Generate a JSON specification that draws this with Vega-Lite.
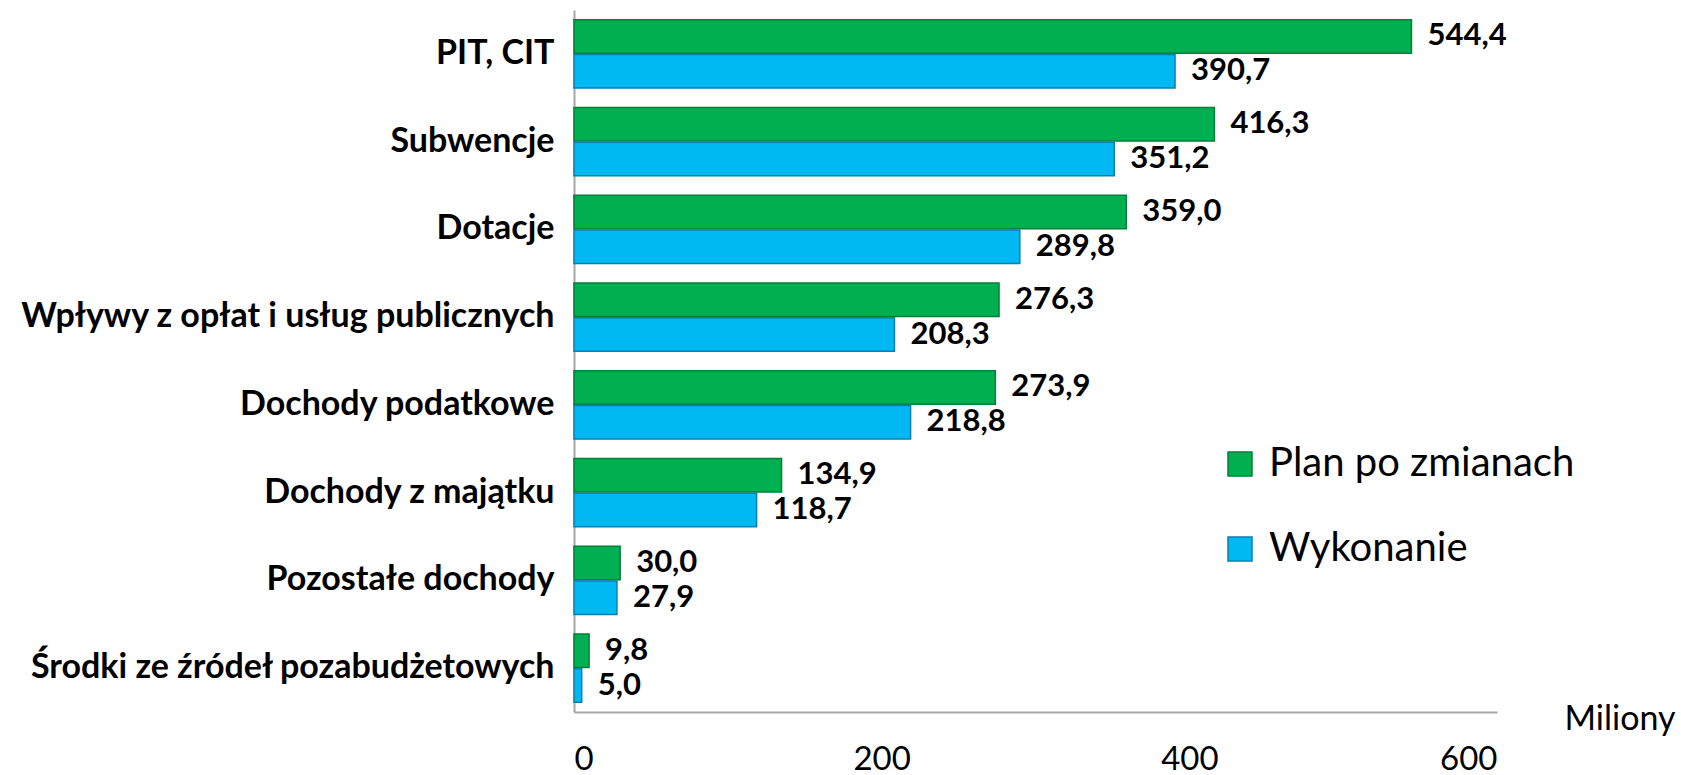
{
  "$schema": "https://vega.github.io/schema/vega-lite/v6.json",
  "width": 923,
  "height": 702,
  "autosize": "none",
  "padding": {"left": 574, "top": 10, "right": 184, "bottom": 63},
  "background": "white",
  "data": {
    "values": [
      {"cat": "PIT, CIT", "series": "Plan po zmianach", "value": 544.4},
      {"cat": "PIT, CIT", "series": "Wykonanie", "value": 390.7},
      {"cat": "Subwencje\u00a0", "series": "Plan po zmianach", "value": 416.3},
      {"cat": "Subwencje\u00a0", "series": "Wykonanie", "value": 351.2},
      {"cat": "Dotacje", "series": "Plan po zmianach", "value": 359.0},
      {"cat": "Dotacje", "series": "Wykonanie", "value": 289.8},
      {"cat": "Wpływy z opłat i usług publicznych", "series": "Plan po zmianach", "value": 276.3},
      {"cat": "Wpływy z opłat i usług publicznych", "series": "Wykonanie", "value": 208.3},
      {"cat": "Dochody podatkowe\u00a0", "series": "Plan po zmianach", "value": 273.9},
      {"cat": "Dochody podatkowe\u00a0", "series": "Wykonanie", "value": 218.8},
      {"cat": "Dochody z majątku", "series": "Plan po zmianach", "value": 134.9},
      {"cat": "Dochody z majątku", "series": "Wykonanie", "value": 118.7},
      {"cat": "Pozostałe dochody", "series": "Plan po zmianach", "value": 30.0},
      {"cat": "Pozostałe dochody", "series": "Wykonanie", "value": 27.9},
      {"cat": "Środki ze źródeł pozabudżetowych", "series": "Plan po zmianach", "value": 9.8},
      {"cat": "Środki ze źródeł pozabudżetowych", "series": "Wykonanie", "value": 5.0}
    ]
  },
  "encoding": {
    "y": {
      "field": "cat",
      "type": "nominal",
      "sort": null,
      "scale": {"paddingInner": 0.22, "paddingOuter": 0.11},
      "axis": {
        "title": null,
        "ticks": false,
        "labelPadding": 20,
        "labelFont": "Lato",
        "labelFontWeight": "bold",
        "labelFontSize": 34,
        "labelColor": "#000000",
        "labelLimit": 700,
        "domainColor": "#a6a6a6",
        "domainWidth": 2
      }
    },
    "yOffset": {
      "field": "series",
      "type": "nominal",
      "sort": ["Plan po zmianach", "Wykonanie"],
      "scale": {"paddingInner": 0.04}
    },
    "x": {
      "field": "value",
      "type": "quantitative",
      "scale": {"domain": [0, 600], "nice": false},
      "axis": {
        "values": [0, 200, 400, 600],
        "grid": false,
        "ticks": false,
        "labelPadding": 57,
        "labelBaseline": "alphabetic",
        "labelFont": "Lato",
        "labelFontSize": 33,
        "labelColor": "#000000",
        "domainColor": "#a6a6a6",
        "domainWidth": 2,
        "title": "Miliony",
        "titleFont": "Lato",
        "titleFontWeight": "normal",
        "titleFontSize": 34,
        "titleColor": "#000000",
        "titleAnchor": "start",
        "titleAlign": "left",
        "titleBaseline": "alphabetic",
        "titleX": 990,
        "titleY": 17
      }
    }
  },
  "layer": [
    {
      "mark": {"type": "bar", "strokeWidth": 1.5},
      "encoding": {
        "color": {
          "field": "series",
          "type": "nominal",
          "scale": {"domain": ["Plan po zmianach", "Wykonanie"], "range": ["#00B050", "#00B9F2"]},
          "legend": {
            "title": null,
            "orient": "none",
            "legendX": 646,
            "legendY": 434,
            "padding": 0,
            "symbolType": "square",
            "symbolSize": 576,
            "symbolStrokeWidth": 1.5,
            "symbolStrokeColor": "#0a6e4a",
            "labelFont": "Lato",
            "labelFontSize": 40,
            "labelColor": "#000000",
            "labelOffset": 9,
            "rowPadding": 45,
            "labelLimit": 500
          }
        },
        "stroke": {
          "field": "series",
          "type": "nominal",
          "scale": {"domain": ["Plan po zmianach", "Wykonanie"], "range": ["#00803a", "#0a7fb0"]},
          "legend": null
        }
      }
    },
    {
      "mark": {"type": "text", "align": "left", "baseline": "middle", "dx": 16, "font": "Lato", "fontWeight": "bold", "fontSize": 31, "color": "#000000"},
      "encoding": {
        "text": {"field": "value", "type": "quantitative", "format": ".1f"}
      }
    }
  ],
  "config": {
    "view": {"stroke": null},
    "locale": {
      "number": {"decimal": ",", "thousands": "\u00a0", "grouping": [3], "currency": ["", " zł"]}
    }
  }
}
